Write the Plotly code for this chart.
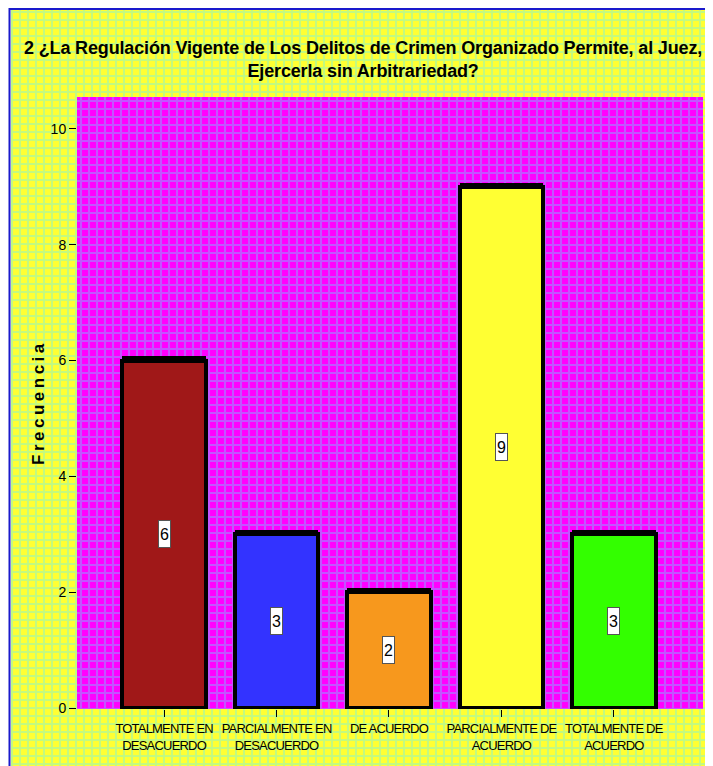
import plotly.graph_objects as go

categories = ["TOTALMENTE EN<br>DESACUERDO", "PARCIALMENTE EN<br>DESACUERDO", "DE ACUERDO",
              "PARCIALMENTE DE<br>ACUERDO", "TOTALMENTE DE<br>ACUERDO"]
values = [6, 3, 2, 9, 3]
bar_colors = ["#a01818", "#3333ff", "#f7981d", "#ffff33", "#33ff00"]
y_ticks = [0, 2, 4, 6, 8, 10]
title_lines = ["2 ¿La Regulación Vigente de Los Delitos de Crimen Organizado Permite, al Juez,",
               "Ejercerla sin Arbitrariedad?"]
y_title = "Frecuencia"

# figure is placed at (8,8) in the page by the body margin
W, H = 705, 758
FONT = "Liberation Sans, Arial, sans-serif"


def tight(s, ls):
    return '<span style="letter-spacing:%spx">%s</span>' % (ls, s)


xpos = list(range(len(categories)))
xr = [-0.775, 4.793]
yr = [-0.017, 10.55]

fig = go.Figure()

# full-figure patterned background (subplot x/y in pixel units)
fig.add_trace(go.Bar(
    x=[(3 + 700) / 2], y=[H + 5 - 2], base=[2], width=[700 - 3],
    marker=dict(color="#ffff33", line=dict(width=0),
                pattern=dict(shape="+", fgcolor="#88f5cc", bgcolor="#ffff33", size=8, solidity=0.45)),
    xaxis="x", yaxis="y", hoverinfo="skip", showlegend=False,
))

# plot-area patterned background
fig.add_trace(go.Bar(
    x=[(xr[0] + xr[1]) / 2], y=[yr[1] - yr[0]], base=[yr[0]], width=[xr[1] - xr[0]],
    marker=dict(color="#ff00ff", line=dict(width=0),
                pattern=dict(shape="+", fgcolor="#88a8ff", bgcolor="#ff00ff", size=8, solidity=0.45)),
    xaxis="x2", yaxis="y2", hoverinfo="skip", showlegend=False,
))

# shadow (thicker top edge)
fig.add_trace(go.Bar(
    x=xpos, y=[v + 0.07 for v in values], width=0.745,
    marker=dict(color="#000000", line=dict(width=0)),
    xaxis="x2", yaxis="y2", hoverinfo="skip", showlegend=False,
))

# data bars
fig.add_trace(go.Bar(
    x=xpos, y=values, width=0.745,
    marker=dict(color=bar_colors, line=dict(color="#000000", width=4)),
    xaxis="x2", yaxis="y2", showlegend=False,
))

annotations = []
for xi, v in zip(xpos, values):
    annotations.append(dict(
        x=xi, y=v / 2, xref="x2", yref="y2", text=str(v), showarrow=False,
        font=dict(family=FONT, size=16, color="#000000"),
        width=9, height=24,
        bgcolor="#ffffff", bordercolor="#555555", borderwidth=1, borderpad=1,
    ))

annotations.append(dict(
    x=355 / W, y=(H - 51.5) / H, xref="paper", yref="paper",
    text="<br>".join("<b>" + tight(l, -0.15) + "</b>" for l in title_lines),
    showarrow=False, xanchor="center", yanchor="middle",
    font=dict(family=FONT, size=18, color="#000000"),
))
annotations.append(dict(
    x=30 / W, y=(H - 395) / H, xref="paper", yref="paper",
    text="<b>" + tight(y_title, 3.5) + "</b>",
    showarrow=False, textangle=-90, xanchor="center", yanchor="middle",
    font=dict(family=FONT, size=17, color="#000000"),
))

fig.update_layout(
    width=W, height=H,
    margin=dict(l=0, r=0, t=0, b=0, pad=0),
    paper_bgcolor="#ffffff",
    plot_bgcolor="rgba(0,0,0,0)",
    barmode="overlay",
    bargap=0,
    showlegend=False,
    annotations=annotations,
    xaxis=dict(domain=[0, 1], range=[0, W], visible=False, fixedrange=True, automargin=False),
    yaxis=dict(domain=[0, 1], range=[H, 0], visible=False, fixedrange=True, automargin=False),
    xaxis2=dict(domain=[69 / W, 695 / W], range=xr, anchor="y2", automargin=False,
                tickmode="array", tickvals=xpos,
                ticktext=["<br>".join(tight(p, -0.8) for p in c.split("<br>")) for c in categories],
                tickangle=0,
                ticks="outside", ticklen=7, tickcolor="#000000", tickwidth=1,
                showgrid=False, zeroline=False, showline=False,
                tickfont=dict(family=FONT, size=13, color="#000000")),
    yaxis2=dict(domain=[(H - 701) / H, (H - 89) / H], range=yr, anchor="x2", automargin=False,
                tickmode="array", tickvals=y_ticks, ticktext=[str(t) for t in y_ticks],
                ticks="outside", ticklen=7, tickcolor="#000000", tickwidth=1,
                showgrid=False, zeroline=False, showline=False,
                tickfont=dict(family=FONT, size=14, color="#000000")),
    shapes=[dict(type="rect", xref="paper", yref="paper",
                 x0=1.5 / W, x1=701.5 / W, y0=-0.02, y1=(H - 1) / H,
                 line=dict(color="#1a1acc", width=2), fillcolor="rgba(0,0,0,0)", layer="above")],
)

fig.write_html("out.html")
